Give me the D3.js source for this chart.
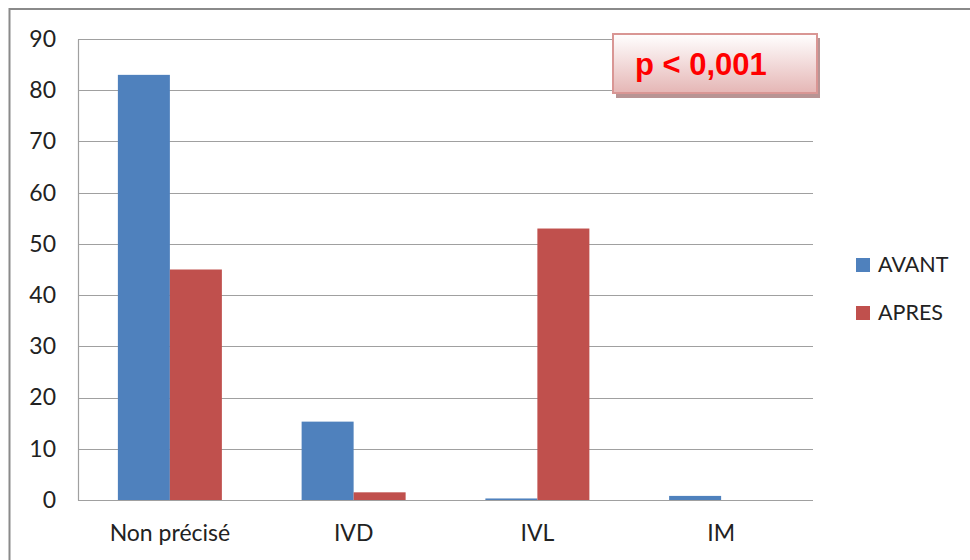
<!DOCTYPE html>
<html>
<head>
<meta charset="utf-8">
<script src="https://cdn.jsdelivr.net/npm/d3@7"></script>
<style>
  body { margin: 0; background: #fff; }
  svg { display: block; }
</style>
</head>
<body>
<div id="chart"></div>
<script>
// Chart data
const categories = ["Non précisé", "IVD", "IVL", "IM"];
const seriesNames = ["AVANT", "APRES"];
const avantValues = [83, 15.3, 0.3, 0.8];
const apresValues = [45, 1.5, 53, 0];
const yTicks = [0, 10, 20, 30, 40, 50, 60, 70, 80, 90];
const pLabel = "p < 0,001";

const colors = { AVANT: "#4F81BD", APRES: "#C0504D" };

const width = 970;
const height = 560;
const margin = { top: 39, right: 157, bottom: 60, left: 78 };

const svg = d3.select("#chart")
  .append("svg")
  .attr("width", width)
  .attr("height", height);

// outer frame (cut off at right and bottom)
svg.append("rect")
  .attr("x", 9.5)
  .attr("y", 9)
  .attr("width", width + 10)
  .attr("height", height + 10)
  .attr("fill", "none")
  .attr("stroke", "#8a8a8a")
  .attr("stroke-width", 2);

const x0 = d3.scaleBand()
  .domain(categories)
  .range([margin.left, width - margin.right])
  .paddingInner(0.434)
  .paddingOuter(0.217);

const x1 = d3.scaleBand()
  .domain(seriesNames)
  .range([0, x0.bandwidth()]);

const y = d3.scaleLinear()
  .domain([0, 90])
  .range([height - margin.bottom, margin.top]);

// gridlines
svg.append("g")
  .selectAll("line")
  .data(yTicks)
  .enter()
  .append("line")
  .attr("x1", margin.left)
  .attr("x2", width - margin.right)
  .attr("y1", d => Math.round(y(d)) + 0.5)
  .attr("y2", d => Math.round(y(d)) + 0.5)
  .attr("stroke", "#a0a0a0")
  .attr("stroke-width", 1.2);

// y axis
const yAxis = d3.axisLeft(y).tickValues(yTicks).tickSize(0).tickPadding(22);
const gy = svg.append("g")
  .attr("transform", `translate(${margin.left},0)`)
  .call(yAxis);
gy.select(".domain").attr("stroke", "#a0a0a0").attr("stroke-width", 1.2);
gy.selectAll("text")
  .attr("font-family", "Lato, 'Open Sans', sans-serif")
  .attr("font-size", 23)
  .attr("fill", "#222");

// bars
const rows = categories.map((c, i) => ({ cat: c, AVANT: avantValues[i], APRES: apresValues[i] }));

svg.append("g")
  .selectAll("g")
  .data(rows)
  .enter()
  .append("g")
  .attr("transform", d => `translate(${x0(d.cat)},0)`)
  .selectAll("rect")
  .data(d => seriesNames.map(s => ({ key: s, value: d[s] })))
  .enter()
  .append("rect")
  .attr("x", d => x1(d.key))
  .attr("y", d => y(d.value))
  .attr("width", x1.bandwidth())
  .attr("height", d => y(0) - y(d.value))
  .attr("fill", d => colors[d.key]);

// x axis labels
const xAxis = d3.axisBottom(x0).tickSize(0).tickPadding(25);
const gx = svg.append("g")
  .attr("transform", `translate(0,${y(0)})`)
  .call(xAxis);
gx.select(".domain").remove();
gx.selectAll("text")
  .attr("font-family", "Lato, 'Open Sans', sans-serif")
  .attr("font-size", 23)
  .attr("fill", "#222");

// legend
const legend = svg.append("g")
  .attr("transform", "translate(856, 258)");

legend.selectAll("rect")
  .data(seriesNames)
  .enter()
  .append("rect")
  .attr("x", 0)
  .attr("y", (d, i) => i * 48)
  .attr("width", 14)
  .attr("height", 14)
  .attr("fill", d => colors[d]);

legend.selectAll("text")
  .data(seriesNames)
  .enter()
  .append("text")
  .attr("x", 22)
  .attr("y", (d, i) => i * 48 + 14)
  .attr("font-family", "Lato, 'Open Sans', sans-serif")
  .attr("font-size", 21.5)
  .attr("fill", "#222")
  .text(d => d);

// p value box
const defs = svg.append("defs");
const grad = defs.append("linearGradient")
  .attr("id", "pbox-grad")
  .attr("x1", "0%").attr("y1", "0%")
  .attr("x2", "0%").attr("y2", "100%");
grad.append("stop").attr("offset", "0%").attr("stop-color", "#ffffff");
grad.append("stop").attr("offset", "100%").attr("stop-color", "#e5b6b5");

const pBox = svg.append("g").attr("transform", "translate(613, 34)");
pBox.append("rect")
  .attr("x", 3)
  .attr("y", 4)
  .attr("width", 204)
  .attr("height", 60)
  .attr("fill", "#b89494");
pBox.append("rect")
  .attr("x", 0)
  .attr("y", 0)
  .attr("width", 204)
  .attr("height", 59)
  .attr("fill", "url(#pbox-grad)")
  .attr("stroke", "#d99694")
  .attr("stroke-width", 2);
pBox.append("text")
  .attr("x", 22)
  .attr("y", 41)
  .attr("font-family", "'Liberation Sans', Arial, sans-serif")
  .attr("font-weight", "bold")
  .attr("font-size", 31)
  .attr("fill", "#ff0000")
  .text(pLabel);
</script>
</body>
</html>
